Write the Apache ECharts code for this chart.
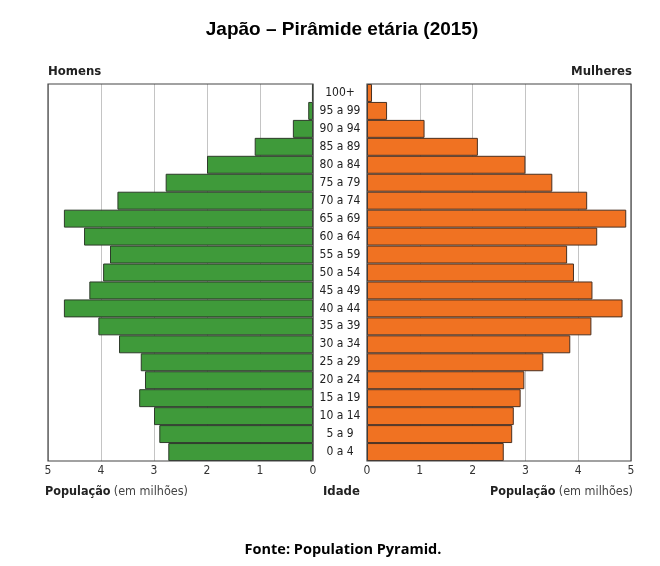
<!DOCTYPE html>
<html>
<head>
<meta charset="utf-8">
<script src="https://cdn.jsdelivr.net/npm/echarts@6/dist/echarts.min.js"></script>
<style>
html,body{margin:0;padding:0;background:#fff;}
#chart{width:660px;height:566px;}
</style>
</head>
<body>
<div id="chart"></div>
<script>
// faixas etárias, de baixo para cima
var idades = ['0 a 4','5 a 9','10 a 14','15 a 19','20 a 24','25 a 29','30 a 34','35 a 39','40 a 44','45 a 49',
  '50 a 54','55 a 59','60 a 64','65 a 69','70 a 74','75 a 79','80 a 84','85 a 89','90 a 94','95 a 99','100+'];
// população em milhões
var homens = [2.73,2.90,3.00,3.28,3.17,3.25,3.66,4.05,4.70,4.22,
  3.96,3.83,4.32,4.70,3.69,2.78,2.00,1.10,0.38,0.09,0.02];
var mulheres = [2.59,2.75,2.78,2.91,2.98,3.34,3.85,4.25,4.84,4.27,
  3.92,3.79,4.36,4.91,4.17,3.51,3.00,2.10,1.09,0.38,0.095];
var ticks = [0,1,2,3,4,5];

var narrow = '"Liberation Sans Narrow","DejaVu Sans Condensed",sans-serif';

var chart = echarts.init(document.getElementById('chart'));

var eixoValor = function (idx, inverse) {
  return {
    type: 'value', gridIndex: idx, min: ticks[0], max: ticks[ticks.length - 1], interval: 1, inverse: inverse,
    axisLine: {show: false},
    axisTick: {show: false},
    axisLabel: {color: '#333', fontFamily: narrow, fontSize: 12, margin: 4},
    splitLine: {show: true, lineStyle: {color: '#c4c4c4', width: 1}}
  };
};
var eixoCat = function (idx, show) {
  return {
    type: 'category', gridIndex: idx, data: idades,
    axisLine: {show: false}, axisTick: {show: false},
    axisLabel: show ? {show: true, color: '#222', fontFamily: narrow, fontSize: 12, margin: 27, align: 'center'} : {show: false},
    splitLine: {show: false}
  };
};

option = {
  backgroundColor: '#fff',
  animation: false,
  title: [
    {text: 'Japão – Pirâmide etária (2015)', left: 337, top: 15, textAlign: 'center',
      textStyle: {fontFamily: 'Liberation Sans, Arial', fontWeight: 'bold', fontSize: 19, color: '#000'}},
    {text: 'Fonte: Population Pyramid.', left: 338, top: 537, textAlign: 'center',
      textStyle: {fontFamily: '"Open Sans", sans-serif', fontWeight: 'bold', fontSize: 14.5, color: '#000'}}
  ],
  graphic: [
    {type: 'text', left: 48, top: 65, style: {text: 'Homens', font: 'bold 13px ' + narrow, fill: '#222'}},
    {type: 'text', right: 28, top: 65, style: {text: 'Mulheres', font: 'bold 13px ' + narrow, fill: '#222'}},
    {type: 'text', left: 323, top: 485, style: {text: 'Idade', font: 'bold 13px ' + narrow, fill: '#222'}},
    {type: 'text', left: 45, top: 485, style: {
      rich: {b: {font: 'bold 12.5px ' + narrow, fill: '#222'}, r: {font: '12.5px ' + narrow, fill: '#444'}},
      text: '{b|População} {r|(em milhões)}'}},
    {type: 'text', right: 27, top: 485, style: {
      rich: {b: {font: 'bold 12.5px ' + narrow, fill: '#222'}, r: {font: '12.5px ' + narrow, fill: '#444'}},
      text: '{b|População} {r|(em milhões)}'}},
    {type: 'rect', shape: {x: 48, y: 84, width: 265, height: 377}, style: {fill: 'none', stroke: '#444', lineWidth: 1.2}, z: 10},
    {type: 'rect', shape: {x: 367, y: 84, width: 264, height: 377}, style: {fill: 'none', stroke: '#444', lineWidth: 1.2}, z: 10}
  ],
  grid: [
    {left: 48, top: 84, width: 265, height: 377, show: false},
    {left: 367, top: 84, width: 264, height: 377, show: false}
  ],
  xAxis: [eixoValor(0, true), eixoValor(1, false)],
  yAxis: [eixoCat(0, false), eixoCat(1, true)],
  series: [
    {name: 'Homens', type: 'bar', xAxisIndex: 0, yAxisIndex: 0, data: homens,
      barCategoryGap: '0%', itemStyle: {color: '#3f9a3a', borderColor: '#2d3b2a', borderWidth: 1}},
    {name: 'Mulheres', type: 'bar', xAxisIndex: 1, yAxisIndex: 1, data: mulheres,
      barCategoryGap: '0%', itemStyle: {color: '#f07222', borderColor: '#4a3020', borderWidth: 1}}
  ]
};
chart.setOption(option);
</script>
</body>
</html>
